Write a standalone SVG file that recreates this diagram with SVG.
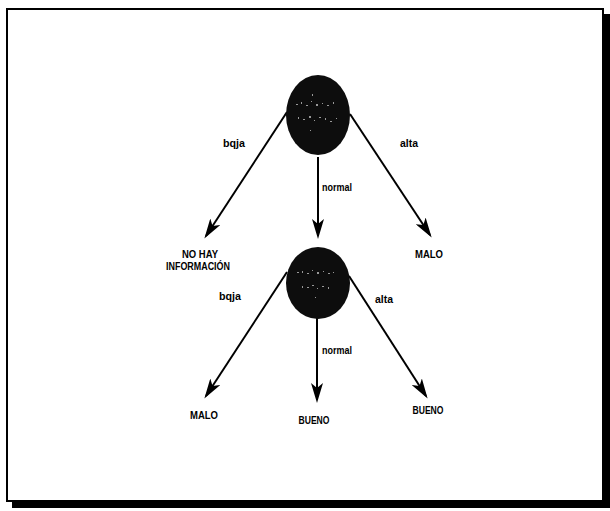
<svg xmlns="http://www.w3.org/2000/svg" width="610" height="511" viewBox="0 0 610 511">
  <style>
    .edge { stroke: #000; stroke-width: 2; fill: none; marker-end: url(#arrow); }
    .node { fill: #0d0d0d; }
    .speck { fill: #bdbdbd; }
    .lbl { font-family: "Liberation Sans", Arial, sans-serif; font-size: 10.5px; font-weight: bold; fill: #000; text-anchor: middle; }
    .leaf { font-family: "Liberation Sans", Arial, sans-serif; font-size: 10.5px; font-weight: bold; fill: #000; text-anchor: middle; }
  </style>
  <defs>
    <marker id="arrow" viewBox="0 0 20 12" refX="17" refY="6" markerWidth="20" markerHeight="12" markerUnits="userSpaceOnUse" orient="auto">
      <path d="M0,0 L20,6 L0,12 L5,6 Z" fill="#000"/>
    </marker>
  </defs>

  <!-- frame with drop shadow -->
  <rect x="0" y="0" width="610" height="511" fill="#fff"/>
  <path d="M603,14 H610 V508 H12 V501 H603 Z" fill="#000"/>
  <rect x="7" y="9" width="596" height="492" fill="none" stroke="#000" stroke-width="2"/>

  <!-- connectors -->
  <g id="connectors">
    <line class="edge" x1="287" y1="112" x2="206" y2="236"/>
    <line class="edge" x1="318" y1="157" x2="318" y2="236"/>
    <line class="edge" x1="350" y1="114" x2="430" y2="235"/>
    <line class="edge" x1="287" y1="272" x2="206" y2="396"/>
    <line class="edge" x1="317" y1="318" x2="317" y2="400"/>
    <line class="edge" x1="349" y1="276" x2="426" y2="396"/>
    <text class="lbl" x="234" y="147" textLength="22" lengthAdjust="spacingAndGlyphs">bqja</text>
    <text class="lbl" x="337" y="191" textLength="30" lengthAdjust="spacingAndGlyphs">normal</text>
    <text class="lbl" x="409" y="147" textLength="18" lengthAdjust="spacingAndGlyphs">alta</text>
    <text class="lbl" x="230" y="300" textLength="22" lengthAdjust="spacingAndGlyphs">bqja</text>
    <text class="lbl" x="337" y="354" textLength="30" lengthAdjust="spacingAndGlyphs">normal</text>
    <text class="lbl" x="384" y="303" textLength="18" lengthAdjust="spacingAndGlyphs">alta</text>
  </g>

  <!-- root node -->
  <g id="root">
    <ellipse class="node" cx="318" cy="115" rx="32" ry="40"/>
    <g class="speck" opacity="0.8">
      <rect x="296" y="104" width="2" height="1"/><rect x="301" y="102" width="1" height="2"/>
      <rect x="306" y="105" width="2" height="1"/><rect x="311" y="101" width="1" height="1"/>
      <rect x="316" y="104" width="2" height="2"/><rect x="322" y="103" width="1" height="1"/>
      <rect x="327" y="105" width="2" height="1"/><rect x="333" y="102" width="1" height="2"/>
      <rect x="298" y="117" width="1" height="2"/><rect x="303" y="119" width="2" height="1"/>
      <rect x="309" y="116" width="2" height="2"/><rect x="314" y="120" width="1" height="1"/>
      <rect x="319" y="117" width="2" height="1"/><rect x="325" y="118" width="1" height="2"/>
      <rect x="330" y="121" width="2" height="1"/><rect x="336" y="118" width="1" height="1"/>
      <rect x="312" y="94" width="1" height="2"/><rect x="310" y="130" width="1" height="1"/>
    </g>
  </g>

  <!-- second node -->
  <g id="inner">
    <ellipse class="node" cx="318" cy="283" rx="32" ry="36"/>
    <g class="speck" opacity="0.8">
      <rect x="297" y="272" width="2" height="1"/><rect x="302" y="271" width="1" height="2"/>
      <rect x="307" y="273" width="2" height="1"/><rect x="312" y="270" width="1" height="1"/>
      <rect x="317" y="272" width="2" height="2"/><rect x="323" y="271" width="1" height="1"/>
      <rect x="328" y="273" width="2" height="1"/><rect x="333" y="272" width="1" height="1"/>
      <rect x="302" y="286" width="1" height="2"/><rect x="307" y="287" width="2" height="1"/>
      <rect x="312" y="285" width="2" height="1"/><rect x="317" y="288" width="1" height="1"/>
      <rect x="322" y="286" width="2" height="1"/><rect x="328" y="287" width="1" height="2"/>
      <rect x="315" y="297" width="1" height="1"/>
    </g>
  </g>

  <!-- leaves -->
  <g id="leaf-noinfo">
    <text class="leaf" x="200" y="258" textLength="36" lengthAdjust="spacingAndGlyphs">NO HAY</text>
    <text class="leaf" x="198" y="270" textLength="64" lengthAdjust="spacingAndGlyphs">INFORMACIÓN</text>
  </g>
  <g id="leaf-malo-1">
    <text class="leaf" x="429" y="258" textLength="28" lengthAdjust="spacingAndGlyphs">MALO</text>
  </g>
  <g id="leaf-malo-2">
    <text class="leaf" x="204" y="419" textLength="28" lengthAdjust="spacingAndGlyphs">MALO</text>
  </g>
  <g id="leaf-bueno-1">
    <text class="leaf" x="314" y="424" textLength="31" lengthAdjust="spacingAndGlyphs">BUENO</text>
  </g>
  <g id="leaf-bueno-2">
    <text class="leaf" x="428" y="414" textLength="31" lengthAdjust="spacingAndGlyphs">BUENO</text>
  </g>
</svg>
